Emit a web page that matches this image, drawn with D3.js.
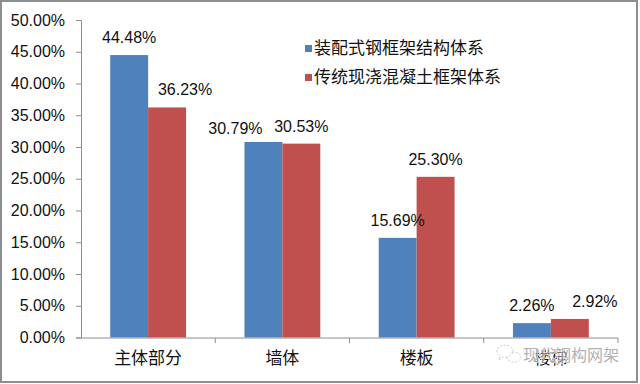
<!DOCTYPE html>
<html><head><meta charset="utf-8">
<script src="https://cdn.jsdelivr.net/npm/d3@7/dist/d3.min.js"></script>
<style>body{margin:0;background:#fff}svg{display:block}</style>
</head><body>
<svg id="c" width="640" height="384"></svg>
<script>
const categories = ["主体部分", "墙体", "楼板", "楼梯"];
const seriesNames = ["装配式钢框架结构体系", "传统现浇混凝土框架体系"];
const steelValues = [0.4448, 0.3079, 0.1569, 0.0226];
const concreteValues = [0.3623, 0.3053, 0.2530, 0.0292];
const yTicks = [0, 0.05, 0.10, 0.15, 0.20, 0.25, 0.30, 0.35, 0.40, 0.45, 0.50];
const colors = ["#4F81BD", "#C0504D"];
// manual label nudges [dx, dy] per series per category (as in original)
const labelNudge = [
  [[0, 0], [-28, 4], [0, 0], [0, 0]],
  [[18, 0], [0, 0], [0, 0], [25, 0]]
];
const watermark = "现代钢构网架";

const svg = d3.select("#c");
const FONT = "'Liberation Sans','Noto Sans CJK SC',sans-serif";
const CJK = "'Noto Sans CJK SC','Liberation Sans',sans-serif";

svg.append("rect").attr("x", 1).attr("y", 1).attr("width", 636).attr("height", 381)
  .attr("fill", "#fff").attr("stroke", "#8e8e8e").attr("stroke-width", 2);

const x0 = d3.scaleBand().domain(categories).range([81, 618]).paddingInner(0).paddingOuter(0);
const x1 = d3.scaleBand().domain([0, 1]).range([0, x0.bandwidth()]).paddingInner(0).paddingOuter(0.77);
const y = d3.scaleLinear().domain([0, 0.5]).range([337.5, 20]);

const series = [steelValues, concreteValues];

// bars
series.forEach((vals, si) => {
  svg.append("g").selectAll("rect").data(vals).join("rect")
    .attr("x", (d, i) => x0(categories[i]) + x1(si))
    .attr("width", x1.bandwidth())
    .attr("y", d => y(d))
    .attr("height", d => y(0) - y(d))
    .attr("fill", colors[si]);
});

// y axis
const yAxis = svg.append("g").attr("transform", "translate(81,0)")
  .call(d3.axisLeft(y).tickValues(yTicks).tickSize(5).tickPadding(11).tickFormat(d3.format(".2%")));
yAxis.select(".domain").attr("stroke", "#8e8e8e");
yAxis.selectAll(".tick line").attr("stroke", "#8e8e8e");
yAxis.selectAll("text").attr("font-family", FONT).attr("font-size", 16).attr("fill", "#111");

// x axis
const xAxis = svg.append("g").attr("transform", "translate(0,338)")
  .call(d3.axisBottom(x0).tickSize(0).tickPadding(14));
xAxis.select(".domain").attr("stroke", "#8e8e8e").attr("d", "M81,0H618");
xAxis.selectAll("text").attr("font-family", CJK).attr("font-size", 17).attr("fill", "#111");
// category separator ticks
svg.append("g").selectAll("line").data(categories).join("line")
  .attr("x1", d => x0(d) + x0.bandwidth()).attr("x2", d => x0(d) + x0.bandwidth())
  .attr("y1", 338).attr("y2", 343).attr("stroke", "#8e8e8e");

// data labels
series.forEach((vals, si) => {
  svg.append("g").selectAll("text").data(vals).join("text")
    .attr("x", (d, i) => x0(categories[i]) + x1(si) + x1.bandwidth() / 2 + labelNudge[si][i][0])
    .attr("y", (d, i) => y(d) - 12 + labelNudge[si][i][1])
    .attr("text-anchor", "middle")
    .attr("font-family", FONT).attr("font-size", 16).attr("fill", "#111")
    .text(d => d3.format(".2%")(d));
});

// legend
const lg = svg.append("g").attr("transform", "translate(305,48)");
seriesNames.forEach((n, i) => {
  const g = lg.append("g").attr("transform", `translate(0,${i * 29})`);
  g.append("rect").attr("x", 0).attr("y", -3).attr("width", 7).attr("height", 7).attr("fill", colors[i]);
  g.append("text").attr("x", 9).attr("y", 6).attr("font-family", CJK).attr("font-size", 17)
    .attr("fill", "#111").text(n);
});

// watermark
const wm = svg.append("g").attr("opacity", 0.75);
wm.append("path")
  .attr("d", "M497,352 a8,6 0 1,1 6,5 l-4,3 l1,-4 z")
  .attr("fill", "none").attr("stroke", "#bbb").attr("stroke-width", 1).attr("stroke-dasharray", "2,1.5");
wm.append("path")
  .attr("d", "M507,357 a7,5 0 1,0 3,-4")
  .attr("fill", "none").attr("stroke", "#bbb").attr("stroke-width", 1).attr("stroke-dasharray", "2,1.5");
wm.append("text").attr("x", 523).attr("y", 361).attr("font-family", CJK).attr("font-size", 16)
  .attr("fill", "#999").attr("stroke", "#fff").attr("stroke-width", 2).attr("paint-order", "stroke")
  .text(watermark);
</script>
</body></html>
